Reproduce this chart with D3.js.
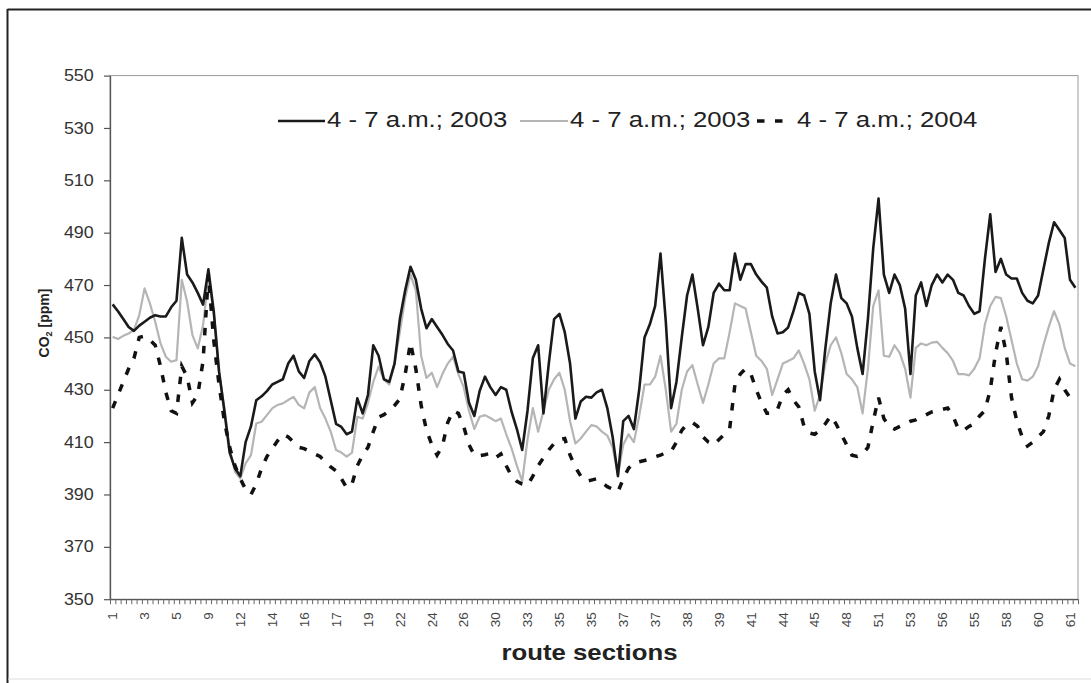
<!DOCTYPE html>
<html>
<head>
<meta charset="utf-8">
<script src="https://cdn.jsdelivr.net/npm/d3@7"></script>
<style>
  html, body { margin: 0; padding: 0; background: #fff; }
  svg { display: block; font-family: "Liberation Sans", Arial, sans-serif; }
</style>
</head>
<body>
<svg id="chart" width="1091" height="683"></svg>
<script>
// ---- data ----
const seriesNames = ["4 - 7 a.m.; 2003", "4 - 7 a.m.; 2003", "4 - 7 a.m.; 2004"];
const tickLabels = ["1","3","5","9","12","14","16","17","19","22","24","26","30","33","35",
  "35","37","37","38","39","41","44","45","48","51","53","56","55","58","60","61"];
const yTicks = [350,370,390,410,430,450,470,490,510,530,550];

const black2003 = [
  462.6,460,457,454,452.5,454.5,456,457.5,458.5,458,
  458,461.5,464,488,474,471,467,462.5,476,460,
  437,422,406,400,397,410,416,426,427.5,429.5,
  432,433,434,440,443,437,434.5,441,443.5,440.5,
  435,426,417,415.8,413,414,426.7,421,428,447,
  443,434,433,440,457,468,477,472,461,453.5,
  457,454,451,447.5,445,437,436.5,425,420,429.5,
  435,431,428,431,430,421.6,415,407,422,442,
  447,421,440,457,459,452,440,419,425.5,427.3,
  427,429,430,423,412,397,418,420,415,430,
  450,455,462,482,456,423,433,450,466,474,
  461,447,454,467,470.5,468,468,482,472,478,
  478,474,471.3,469,458,451.5,452,453.8,460,467,
  466,459,437,426,445.8,463,474,465,463,458,
  446,436,457,484,503,474,467,474,470,461,
  436,466,471,462,470,474,471,474,472,467,
  466,462,459,460,480,497,475,480,474,472.5,
  472.5,467,464,463,466,476,486,494,491,488,
  472,469
];
const gray2003 = [
  450.2,449.4,450.6,451.5,452.8,458.5,468.7,463,456,447.7,
  442.6,440.7,441.3,472,463.6,450.9,445.8,454.7,472.5,459.8,
  437,423,407.6,398.7,396.1,401.9,405,417.1,417.8,420.3,
  422.9,424.2,424.8,426.1,427.3,424.2,422.9,429,431,423,
  419,414,407,406,404.5,406,419.7,419,425,433,
  438.8,434,432,440,452,465,474,468,443,434.5,
  436.5,431,436,440,442.6,436,431,422,415,419.7,
  420.3,419.2,418,419,413,407.6,401,395,411,423,
  414,422,430,434,436.5,430,418,409.5,411.4,414,
  416.5,416,414,412.5,408,397.5,409,413,410,420,
  432,432,435,443,430,414,417,430,437,439.4,
  432,425,432,440,442,442,452,463,462,461,
  452,443,441,438,428,434,440,441,442,445,
  440,434,422,428,440,447,450,444,436,434,
  431,421,438,462,468,443,442.6,447,444,438,
  427,446,447.7,447,448,448.3,446,444,441,436,
  436,435.5,438,442,455,462,465.5,465,458,449,
  440,434,433.5,435,439,447,454,460,455,446,
  440,439
];
const dashed2004 = [
  423,428,433,438,442,450,450.5,449,447,439,
  429,422,421,439,435,425,428,441,474,449,
  432,418,408,401,396,392,390,394,400,404.5,
  407.5,410.5,413,412,410,408,407.5,406.5,405.5,404.5,
  402.5,400.5,399,396,392.5,394,401,405,408,414,
  419.5,420.5,422,424,426.5,436,448,438,424,414.6,
  409,405,408.5,417.5,422,421,416,409,405,404.8,
  405.2,405.7,404,405.5,401,397,395,394,393.5,397,
  401,404,407,409.5,411,411.4,405,400.5,397,395,
  395.5,396,394.5,393,392,391,396,400,402,402.5,
  403,403.5,404.4,405,406,406.5,410,414.5,417,417.5,
  416,412,410,409,411,413,415,432,436,438,
  436,430,425,421,421,422.5,428,430,426,423.5,
  416,413.5,413,414.5,417,420,417,413,409,405,
  404.5,405.5,408,418,427,419,416,415,416,417,
  418,418.5,419.5,420.5,421.5,422,422.5,423,420,415,
  414.5,416,417,420,422,430,444,454,444,427,
  418,412,408.5,410,412,414,420,430,434,430,
  427,425
];

// ---- layout ----
const svg = d3.select("#chart");
const plot = { left: 110, right: 1078, top: 75.6, bottom: 599.2 };
const N = black2003.length;

const xBand = d3.scaleBand().domain(d3.range(N)).range([plot.left, plot.right]).padding(0);
const xTick = d3.scaleLinear().domain([0, N]).range([plot.left, plot.right]);
const y = d3.scaleLinear().domain([350, 550]).range([plot.bottom, plot.top]);
const cx = i => xBand(i) + xBand.bandwidth() / 2;

// outer frame
svg.append("line").attr("x1", 7.5).attr("x2", 1091).attr("y1", 9.5).attr("y2", 9.5)
  .attr("stroke", "#222").attr("stroke-width", 2);
svg.append("line").attr("x1", 7.5).attr("x2", 7.5).attr("y1", 9).attr("y2", 683)
  .attr("stroke", "#222").attr("stroke-width", 2);
svg.append("line").attr("x1", 8).attr("x2", 1091).attr("y1", 679).attr("y2", 679)
  .attr("stroke", "#ddd").attr("stroke-width", 1);

// plot area border
svg.append("rect").attr("x", plot.left).attr("y", plot.top)
  .attr("width", plot.right - plot.left).attr("height", plot.bottom - plot.top)
  .attr("fill", "none").attr("stroke", "#9a9a9a").attr("stroke-width", 1);

// y axis
const yAxis = svg.append("g").attr("transform", `translate(${plot.left},0)`)
  .call(d3.axisLeft(y).tickValues(yTicks).tickSize(6).tickPadding(8.5).tickSizeOuter(0));
yAxis.select(".domain").attr("stroke", "#555").attr("stroke-width", 1.3);
yAxis.selectAll(".tick line").attr("stroke", "#555").attr("stroke-width", 1.2);
yAxis.selectAll(".tick text")
  .attr("font-size", 16).attr("fill", "#333")
  .attr("font-family", "Liberation Sans, Arial, sans-serif")
  .attr("transform", "scale(1.12,1)");

// x axis ticks (between categories)
const xAxis = svg.append("g").attr("transform", `translate(0,${plot.bottom})`)
  .call(d3.axisBottom(xTick).tickValues(d3.range(N + 1)).tickSize(5).tickFormat("").tickSizeOuter(0));
xAxis.select(".domain").attr("stroke", "#555").attr("stroke-width", 1.3);
xAxis.selectAll(".tick line").attr("stroke", "#666").attr("stroke-width", 1);

// x axis labels (every 6th category)
const labelIdx = tickLabels.map((d, k) => k * 6);
const xLab = svg.append("g").attr("transform", `translate(0,${plot.bottom})`)
  .call(d3.axisBottom(xBand).tickValues(labelIdx).tickSize(0)
    .tickFormat(d => tickLabels[d / 6]));
xLab.select(".domain").remove();
xLab.selectAll(".tick text")
  .attr("font-size", 13.5).attr("fill", "#444")
  .attr("font-family", "Liberation Sans, Arial, sans-serif")
  .attr("text-anchor", "end")
  .attr("transform", "rotate(-90)")
  .attr("x", -13).attr("y", 0).attr("dy", "0.35em");

// axis titles
svg.append("text")
  .attr("transform", "translate(589.5,660) scale(1.12,1)")
  .attr("text-anchor", "middle").attr("font-size", 23).attr("font-weight", "bold")
  .attr("fill", "#222").text("route sections");

const yt = svg.append("text")
  .attr("transform", "translate(44,323) rotate(-90)")
  .attr("text-anchor", "middle").attr("dy", "0.35em")
  .attr("font-size", 14).attr("font-weight", "bold").attr("fill", "#222");
yt.append("tspan").text("CO");
yt.append("tspan").attr("font-size", 9).attr("dy", 3).text("2");
yt.append("tspan").attr("dy", -3).text(" [ppm]");

// series lines
const line = d3.line().x((d, i) => cx(i)).y(d => y(d));
svg.append("path").datum(gray2003).attr("d", line)
  .attr("fill", "none").attr("stroke", "#b5b5b5").attr("stroke-width", 2.2)
  .attr("stroke-linejoin", "round");
svg.append("path").datum(black2003).attr("d", line)
  .attr("fill", "none").attr("stroke", "#1a1a1a").attr("stroke-width", 2.6)
  .attr("stroke-linejoin", "round");
svg.append("path").datum(dashed2004).attr("d", line)
  .attr("fill", "none").attr("stroke", "#111").attr("stroke-width", 3.5)
  .attr("stroke-dasharray", "7.5,10.5");

// legend
const legend = [
  { x1: 278, x2: 325, tx: 327, stroke: "#1a1a1a", w: 2.6, dash: null, name: seriesNames[0] },
  { x1: 520, x2: 568, tx: 570, stroke: "#b5b5b5", w: 2.2, dash: null, name: seriesNames[1] },
  { x1: 757, x2: 792, tx: 797, stroke: "#111", w: 3.5, dash: "7.5,10.5", name: seriesNames[2] }
];
const lg = svg.append("g");
legend.forEach(l => {
  lg.append("line").attr("x1", l.x1).attr("x2", l.x2).attr("y1", 121).attr("y2", 121)
    .attr("stroke", l.stroke).attr("stroke-width", l.w)
    .attr("stroke-dasharray", l.dash);
  lg.append("text").attr("transform", `translate(${l.tx},127) scale(1.12,1)`)
    .attr("font-size", 23).attr("fill", "#222").text(l.name);
});
</script>
</body>
</html>
